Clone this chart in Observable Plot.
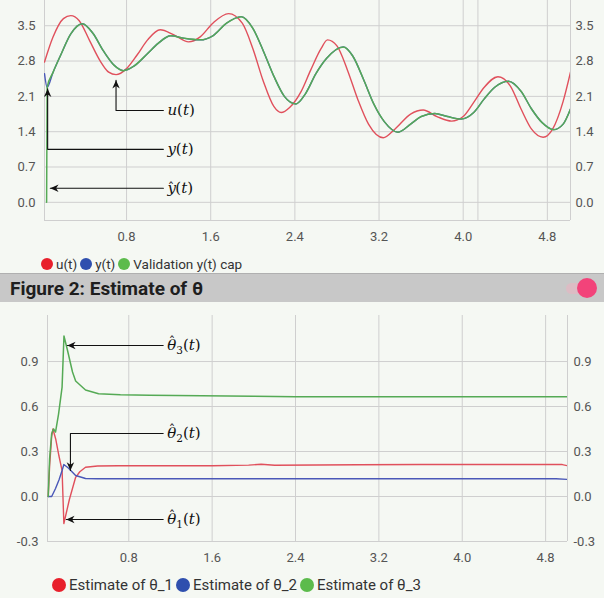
<!DOCTYPE html>
<html>
<head>
<meta charset="utf-8">
<script src="https://cdn.jsdelivr.net/npm/d3@7"></script>
<script src="https://cdn.jsdelivr.net/npm/@observablehq/plot@0.6"></script>
<style>
  html, body { margin:0; padding:0; }
  body { width:604px; height:598px; background:#f5f8f3; font-family: Roboto, "Noto Sans", sans-serif; position:relative; overflow:hidden; }
  .abs { position:absolute; }
  .legend { display:flex; align-items:center; color:#333; white-space:nowrap; }
  .legend .sw { border-radius:50%; display:inline-block; margin-right:3px; }
  .legend .it { display:flex; align-items:center; margin-right:3px; }
  #legend1 { font-size:13.5px; }
  #legend1 .sw { width:12px; height:12px; }
  #legend2 { font-size:15px; }
  #legend2 .sw { width:14px; height:14px; }
  #header { left:0; top:273px; width:604px; height:29px; background:#c8c8c8; border-top:1px solid #b0b0b0; box-sizing:border-box; }
  #header .title { position:absolute; left:10px; top:3px; font-weight:bold; font-size:19px; color:#1e1e1e; }
  #header .track { position:absolute; left:566px; top:9px; width:24px; height:11px; border-radius:6px; background:#dcbcc4; }
  #header .knob { position:absolute; left:577px; top:4px; width:20px; height:20px; border-radius:50%; background:#f2437a; }
</style>
</head>
<body>
<div id="top" class="abs" style="left:0;top:0"></div>
<div id="legend1" class="abs legend" style="left:41px;top:256px"></div>
<div id="header" class="abs"><div class="title">Figure 2: Estimate of θ</div><div class="track"></div><div class="knob"></div></div>
<div id="bottom" class="abs" style="left:0;top:302px"></div>
<div id="legend2" class="abs legend" style="left:52px;top:576px"></div>
<script>
// ---------- Figure 1 data ----------
const tU   = [0.02,0.10,0.20,0.27,0.35,0.45,0.55,0.63,0.70,0.80,0.90,1.00,1.12,1.25,1.39,1.50,1.62,1.77,1.90,2.00,2.10,2.20,2.27,2.35,2.46,2.55,2.65,2.71,2.80,2.90,3.00,3.10,3.24,3.35,3.50,3.62,3.75,3.89,4.00,4.10,4.20,4.33,4.45,4.55,4.65,4.76,4.85,4.95,5.02];
const uVals= [2.78,3.27,3.64,3.70,3.60,3.20,2.80,2.58,2.53,2.65,2.92,3.22,3.42,3.32,3.18,3.28,3.55,3.74,3.55,3.05,2.40,1.90,1.78,1.88,2.20,2.62,3.05,3.22,3.10,2.62,2.03,1.55,1.28,1.45,1.75,1.83,1.70,1.61,1.70,1.98,2.28,2.49,2.30,1.85,1.45,1.29,1.45,2.00,2.58];

const tY   = [0.02,0.045,0.10,0.17,0.27,0.38,0.48,0.58,0.68,0.77,0.87,1.00,1.10,1.22,1.35,1.50,1.62,1.75,1.89,2.00,2.10,2.20,2.30,2.41,2.50,2.60,2.70,2.86,2.95,3.05,3.15,3.25,3.38,3.50,3.60,3.73,3.85,3.98,4.10,4.20,4.30,4.43,4.55,4.65,4.75,4.86,4.95,5.02];
const yVals= [2.55,2.28,2.57,2.90,3.34,3.54,3.35,3.00,2.72,2.61,2.70,2.95,3.15,3.30,3.25,3.22,3.30,3.55,3.68,3.45,3.00,2.50,2.10,1.95,2.15,2.55,2.85,3.08,2.90,2.45,1.95,1.60,1.39,1.55,1.70,1.76,1.70,1.65,1.78,2.05,2.28,2.40,2.20,1.85,1.58,1.44,1.55,1.85];

const tYhat   = [0.040,0.045,0.10,0.17,0.27,0.38,0.48,0.58,0.68,0.77,0.87,1.00,1.10,1.22,1.35,1.50,1.62,1.75,1.89,2.00,2.10,2.20,2.30,2.41,2.50,2.60,2.70,2.86,2.95,3.05,3.15,3.25,3.38,3.50,3.60,3.73,3.85,3.98,4.10,4.20,4.30,4.43,4.55,4.65,4.75,4.86,4.95,5.02];
const yhatVals= [0.00,2.28,2.57,2.90,3.34,3.54,3.35,3.00,2.72,2.61,2.70,2.95,3.15,3.30,3.25,3.22,3.30,3.55,3.68,3.45,3.00,2.50,2.10,1.95,2.15,2.55,2.85,3.08,2.90,2.45,1.95,1.60,1.39,1.55,1.70,1.76,1.70,1.65,1.78,2.05,2.28,2.40,2.20,1.85,1.58,1.44,1.55,1.85];

const xTicks1 = [0.8,1.6,2.4,3.2,4.0,4.8];
const yTicks1 = [0.0,0.7,1.4,2.1,2.8,3.5];
const xDomain1 = [0.02,5.02];
const yDomain1 = [-0.36,4.0];
const extraGridT = [4.14];
const legend1Labels = ["u(t)","y(t)","Validation y(t) cap"];

// annotations (data coordinates): polyline points, arrow tip direction
const annot1 = [
  {base:"u", hat:false, sub:"", pts:[[1.15,1.82],[0.70,1.82],[0.70,2.42]], dir:"up"},
  {base:"y", hat:false, sub:"", pts:[[1.15,1.05],[0.05,1.05],[0.05,2.25]], dir:"up"},
  {base:"y", hat:true,  sub:"", pts:[[1.15,0.28],[0.075,0.28]], dir:"left"}
];

// ---------- Figure 2 data ----------
const tTh1 = [0.027,0.040,0.060,0.072,0.10,0.13,0.16,0.177,0.23,0.29,0.33,0.385,0.50,0.70,1.00,1.60,1.95,2.07,2.20,2.60,3.00,3.60,4.20,4.80,4.96,5.01];
const th1  = [0.00,0.20,0.40,0.45,0.38,0.27,0.173,-0.18,-0.02,0.128,0.165,0.195,0.203,0.205,0.205,0.205,0.209,0.215,0.208,0.210,0.212,0.213,0.213,0.213,0.213,0.205];
const tTh2 = [0.027,0.060,0.097,0.13,0.16,0.177,0.22,0.29,0.385,0.50,1.00,2.00,3.00,4.00,4.90,5.01];
const th2  = [0.00,0.00,0.053,0.11,0.173,0.213,0.19,0.14,0.12,0.118,0.118,0.118,0.118,0.118,0.118,0.114];
const tTh3 = [0.027,0.040,0.060,0.078,0.097,0.126,0.16,0.178,0.21,0.26,0.29,0.385,0.51,0.72,1.00,1.50,2.00,2.40,3.00,4.00,5.01];
const th3  = [0.00,0.25,0.42,0.45,0.43,0.55,0.73,1.07,0.98,0.83,0.77,0.71,0.685,0.678,0.675,0.672,0.668,0.665,0.665,0.665,0.665];

const xTicks2 = [0.8,1.6,2.4,3.2,4.0,4.8];
const yTicks2 = [-0.3,0.0,0.3,0.6,0.9];
const xDomain2 = [0.02,5.01];
const yDomain2 = [-0.3,1.207];
const legend2Labels = ["Estimate of θ_1","Estimate of θ_2","Estimate of θ_3"];

const annot2 = [
  {base:"θ", hat:true, sub:"3", pts:[[1.13,1.007],[0.21,1.007]], dir:"left"},
  {base:"θ", hat:true, sub:"2", pts:[[1.13,0.42],[0.24,0.42],[0.24,0.173]], dir:"down"},
  {base:"θ", hat:true, sub:"1", pts:[[1.13,-0.153],[0.20,-0.153]], dir:"left"}
];

// ---------- styles ----------
const lineColors = ["#e0505c","#4a58b8","#55aa55"];
const dotColors  = ["#e8202c","#2f4fae","#5cbb4c"];
const gridColor = "#cfcfcf";
const fmt = d => d.toFixed(1);

// stealth arrow symbol with its tip at the origin, pointing up
const arrowSym = {
  draw(ctx, size) {
    const r = Math.sqrt(size / Math.PI);
    const L = 2.3 * r;
    ctx.moveTo(0, 0);
    ctx.lineTo(0.45 * L, L);
    ctx.lineTo(0, 0.7 * L);
    ctx.lineTo(-0.45 * L, L);
    ctx.closePath();
  }
};
const rotOf = {up:0, left:-90, down:180, right:90};

function annotMarks(annots) {
  const segs = [];
  annots.forEach((a, i) => a.pts.forEach(p => segs.push({id:i, x:p[0], y:p[1]})));
  const tips = annots.map(a => ({x:a.pts[a.pts.length-1][0], y:a.pts[a.pts.length-1][1], rot:rotOf[a.dir]}));
  const labels = annots.map((a, i) => ({x:a.pts[0][0], y:a.pts[0][1], key:"§" + i}));
  return [
    Plot.line(segs, {x:"x", y:"y", z:"id", stroke:"#111", strokeWidth:1.1}),
    Plot.dot(tips, {x:"x", y:"y", rotate:"rot", symbol:arrowSym, r:3.6, fill:"#111", stroke:"none"}),
    Plot.text(labels, {x:"x", y:"y", text:"key", textAnchor:"start", dx:4, dy:0, fontSize:15, fill:"#111"})
  ];
}

function series(ts, vs) { return ts.map((t, i) => ({t, v:vs[i]})); }

// ---------- Figure 1 ----------
const chartTop = Plot.plot({
  width:604, height:250, marginLeft:44, marginRight:34, marginTop:0, marginBottom:30,
  x:{domain:xDomain1, label:null}, y:{domain:yDomain1, label:null},
  style:{background:"transparent", fontFamily:"Roboto, sans-serif", fontSize:"13px", color:"#555"},
  marks:[
    Plot.gridY(yTicks1, {stroke:gridColor, strokeOpacity:1}),
    Plot.gridX(xTicks1, {stroke:gridColor, strokeOpacity:1}),
    Plot.ruleX(extraGridT, {stroke:gridColor}),
    Plot.ruleX(xDomain1, {stroke:gridColor}),
    Plot.ruleY([yDomain1[0]], {stroke:gridColor}),
    Plot.line(series(tU, uVals), {x:"t", y:"v", stroke:lineColors[0], strokeWidth:1.4, curve:"monotone-x", clip:true}),
    Plot.line(series(tY, yVals), {x:"t", y:"v", stroke:lineColors[1], strokeWidth:1.4, curve:"monotone-x", clip:true}),
    Plot.line(series(tYhat, yhatVals), {x:"t", y:"v", stroke:lineColors[2], strokeWidth:1.5, curve:"monotone-x", clip:true}),
    ...annotMarks(annot1),
    Plot.axisY(yTicks1, {anchor:"left", tickSize:0, tickPadding:9, tickFormat:fmt, fill:"#555"}),
    Plot.axisY(yTicks1, {anchor:"right", tickSize:0, tickPadding:5, tickFormat:fmt, fill:"#555"}),
    Plot.axisX(xTicks1, {anchor:"bottom", tickSize:0, tickPadding:11, tickFormat:fmt, fill:"#555"})
  ]
});
document.getElementById("top").appendChild(chartTop);

// ---------- Figure 2 ----------
const chartBottom = Plot.plot({
  width:604, height:270, marginLeft:47, marginRight:37, marginTop:13, marginBottom:31,
  x:{domain:xDomain2, label:null}, y:{domain:yDomain2, label:null},
  style:{background:"transparent", fontFamily:"Roboto, sans-serif", fontSize:"13px", color:"#555"},
  marks:[
    Plot.gridY(yTicks2, {stroke:gridColor, strokeOpacity:1}),
    Plot.gridX(xTicks2, {stroke:gridColor, strokeOpacity:1}),
    Plot.ruleX(xDomain2, {stroke:gridColor}),
    Plot.line(series(tTh1, th1), {x:"t", y:"v", stroke:lineColors[0], strokeWidth:1.4, clip:true}),
    Plot.line(series(tTh2, th2), {x:"t", y:"v", stroke:lineColors[1], strokeWidth:1.4, clip:true}),
    Plot.line(series(tTh3, th3), {x:"t", y:"v", stroke:lineColors[2], strokeWidth:1.5, clip:true}),
    ...annotMarks(annot2),
    Plot.axisY(yTicks2, {anchor:"left", tickSize:0, tickPadding:9, tickFormat:fmt, fill:"#555"}),
    Plot.axisY(yTicks2, {anchor:"right", tickSize:0, tickPadding:6, tickFormat:fmt, fill:"#555"}),
    Plot.axisX(xTicks2, {anchor:"bottom", tickSize:0, tickPadding:11, tickFormat:fmt, fill:"#555"})
  ]
});
document.getElementById("bottom").appendChild(chartBottom);

// math-style labels built from parts: italic base (+hat), upright subscript, (italic t)
const NS = "http://www.w3.org/2000/svg";
function tspan(parent, txt, attrs) {
  const t = document.createElementNS(NS, "tspan");
  t.textContent = txt;
  for (const k in attrs) t.setAttribute(k, attrs[k]);
  parent.appendChild(t);
  return t;
}
function mathify(svg, annots) {
  svg.querySelectorAll("text").forEach(el => {
    const s = el.textContent;
    if (!s.startsWith("§")) return;
    const a = annots[+s.slice(1)];
    el.textContent = "";
    el.style.fontFamily = '"DejaVu Serif", serif';
    tspan(el, a.base, {style:"font-style:italic"});
    let dyBack = 0, dxNext = 0;
    if (a.hat) {
      const hatDy = a.base === "θ" ? -4 : -1;
      tspan(el, "ˆ", {dx: a.base === "θ" ? -7.5 : -8, dy: hatDy, style:"font-style:normal;font-size:13px"});
      dyBack = -hatDy; dxNext = 1;
    }
    if (a.sub) {
      tspan(el, a.sub, {dx: dxNext, dy: dyBack + 4, style:"font-style:normal;font-size:10.5px"});
      tspan(el, "(", {dy: -4, style:"font-style:normal"});
    } else {
      tspan(el, "(", {dx: dxNext, dy: dyBack, style:"font-style:normal"});
    }
    tspan(el, "t", {style:"font-style:italic"});
    tspan(el, ")", {style:"font-style:normal"});
  });
}
mathify(chartTop, annot1); mathify(chartBottom, annot2);

// legends
function legend(id, labels) {
  const el = document.getElementById(id);
  labels.forEach((lab, i) => {
    const it = document.createElement("span");
    it.className = "it";
    it.innerHTML = `<span class="sw" style="background:${dotColors[i]}"></span><span>${lab}</span>`;
    el.appendChild(it);
  });
}
legend("legend1", legend1Labels);
legend("legend2", legend2Labels);
</script>
</body>
</html>
